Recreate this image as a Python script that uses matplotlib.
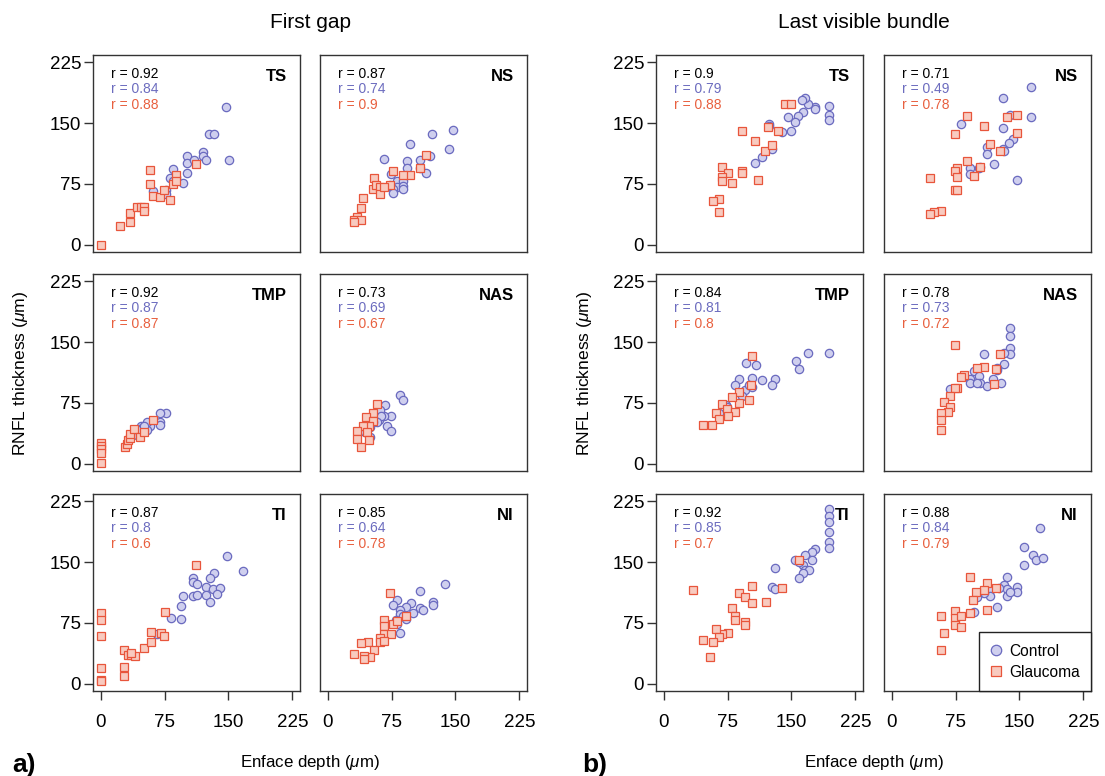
import matplotlib
matplotlib.use("Agg")
import matplotlib.pyplot as plt
from matplotlib.lines import Line2D

plt.rcParams["font.family"] = ["Liberation Sans", "DejaVu Sans"]
plt.rcParams["mathtext.fontset"] = "custom"
plt.rcParams["mathtext.rm"] = "Liberation Sans"
plt.rcParams["mathtext.it"] = "Liberation Sans:italic"

regions = ["TS", "NS", "TMP", "NAS", "TI", "NI"]
ticks = [0, 75, 150, 225]

# correlation coefficients per region: overall, control, glaucoma
gap_r = [[0.92, 0.84, 0.88], [0.87, 0.74, 0.9], [0.92, 0.87, 0.87],
         [0.73, 0.69, 0.67], [0.87, 0.8, 0.6], [0.85, 0.64, 0.78]]
last_r = [[0.9, 0.79, 0.88], [0.71, 0.49, 0.78], [0.84, 0.81, 0.8],
          [0.78, 0.73, 0.72], [0.92, 0.85, 0.7], [0.88, 0.84, 0.79]]

# ---- first gap ----
gap_ts_ctl_x = [147, 151, 127, 133, 120, 120, 124, 101, 101, 109, 101, 97, 85, 88, 81, 85, 77, 77, 62]
gap_ts_ctl_y = [170, 104, 137, 137, 114, 110, 105, 110, 101, 104, 89, 76, 93, 84, 82, 78, 68, 63, 66]
gap_ts_gl_x = [0, 23, 35, 35, 43, 47, 51, 51, 58, 58, 62, 70, 74, 81, 85, 89, 89, 112]
gap_ts_gl_y = [0, 23, 28, 39, 47, 47, 46, 42, 92, 75, 60, 59, 67, 55, 75, 86, 78, 100]

gap_ns_ctl_x = [147, 123, 143, 97, 66, 120, 93, 93, 108, 108, 115, 74, 81, 81, 88, 88, 88, 77, 77, 73]
gap_ns_ctl_y = [142, 136, 118, 124, 106, 110, 103, 95, 104, 95, 89, 87, 78, 71, 78, 73, 69, 69, 64, 74]
gap_ns_gl_x = [116, 108, 97, 89, 77, 73, 54, 53, 57, 62, 62, 66, 42, 39, 35, 31, 39, 31]
gap_ns_gl_y = [111, 94, 86, 86, 91, 74, 82, 69, 74, 71, 62, 71, 58, 45, 34, 30, 30, 28]

gap_tmp_ctl_x = [77, 70, 70, 70, 58, 58, 54, 54, 47, 49, 46, 43, 44, 51]
gap_tmp_ctl_y = [62, 62, 52, 48, 50, 46, 52, 42, 47, 44, 39, 36, 42, 47]
gap_tmp_gl_x = [0, 0, 0, 0, 0, 28, 31, 32, 34, 35, 39, 46, 51, 62]
gap_tmp_gl_y = [26, 22, 18, 13, 1, 21, 24, 29, 32, 37, 43, 33, 39, 54]

gap_nas_ctl_x = [85, 89, 67, 74, 66, 62, 70, 74, 60, 63, 58, 53, 50, 44, 50]
gap_nas_ctl_y = [85, 79, 72, 59, 59, 66, 47, 40, 54, 59, 51, 51, 45, 39, 33]
gap_nas_gl_x = [58, 53, 45, 53, 49, 41, 35, 34, 39, 46, 49]
gap_nas_gl_y = [74, 62, 58, 53, 47, 47, 40, 31, 20, 39, 29]

gap_ti_ctl_x = [148, 167, 133, 128, 108, 108, 113, 124, 132, 140, 124, 136, 108, 113, 128, 97, 94, 82, 94, 66]
gap_ti_ctl_y = [157, 139, 136, 130, 130, 126, 123, 119, 117, 118, 110, 111, 108, 109, 101, 108, 96, 81, 80, 61]
gap_ti_gl_x = [112, 0, 0, 0, 0, 0, 0, 27, 27, 27, 32, 36, 40, 36, 51, 59, 59, 71, 74, 75]
gap_ti_gl_y = [146, 87, 78, 59, 19, 5, 3, 42, 21, 10, 36, 36, 34, 38, 44, 64, 51, 62, 59, 89]

gap_ni_ctl_x = [138, 108, 124, 124, 98, 81, 77, 92, 108, 112, 100, 85, 85, 92, 89, 80, 81, 85]
gap_ni_ctl_y = [123, 114, 101, 97, 99, 103, 97, 95, 93, 91, 87, 91, 86, 80, 84, 78, 74, 63]
gap_ni_gl_x = [73, 92, 77, 81, 66, 66, 66, 74, 62, 62, 66, 47, 39, 54, 50, 43, 43, 31]
gap_ni_gl_y = [112, 83, 74, 77, 79, 71, 61, 61, 56, 52, 53, 51, 50, 42, 33, 34, 30, 37]

# ---- last visible bundle ----
last_ts_ctl_x = [194, 194, 194, 178, 178, 170, 166, 162, 163, 158, 154, 146, 150, 139, 124, 124, 127, 116, 107]
last_ts_ctl_y = [171, 160, 154, 170, 167, 174, 181, 179, 164, 159, 151, 157, 140, 139, 149, 146, 118, 108, 101]
last_ts_gl_x = [143, 150, 92, 123, 134, 107, 119, 127, 69, 76, 69, 69, 92, 92, 80, 111, 65, 58, 65]
last_ts_gl_y = [174, 174, 140, 145, 140, 128, 116, 123, 96, 88, 83, 79, 91, 88, 76, 80, 56, 54, 40]

last_ns_ctl_x = [163, 131, 163, 139, 81, 131, 143, 138, 131, 132, 112, 112, 120, 104, 102, 92, 92, 147]
last_ns_ctl_y = [194, 181, 158, 160, 149, 144, 130, 126, 118, 116, 121, 112, 99, 96, 95, 94, 87, 80]
last_ns_gl_x = [89, 147, 135, 108, 74, 147, 116, 127, 88, 77, 74, 77, 104, 97, 45, 74, 77, 58, 50, 45]
last_ns_gl_y = [159, 160, 158, 146, 137, 138, 124, 116, 103, 95, 91, 83, 96, 85, 82, 68, 68, 41, 40, 38]

last_tmp_ctl_x = [194, 170, 155, 159, 131, 127, 116, 97, 108, 88, 104, 84, 96, 100, 104, 92, 73, 74, 65]
last_tmp_ctl_y = [136, 136, 127, 117, 104, 97, 103, 124, 122, 104, 106, 97, 91, 97, 95, 83, 72, 70, 62]
last_tmp_gl_x = [104, 103, 88, 88, 80, 100, 69, 74, 84, 62, 65, 76, 46, 57]
last_tmp_gl_y = [133, 97, 88, 75, 82, 79, 74, 67, 64, 63, 55, 59, 48, 48]

last_nas_ctl_x = [139, 139, 139, 139, 132, 132, 124, 124, 108, 97, 103, 104, 92, 92, 100, 119, 112, 128, 69]
last_nas_ctl_y = [167, 158, 143, 135, 136, 123, 118, 115, 135, 114, 108, 99, 104, 99, 100, 104, 96, 99, 92]
last_nas_gl_x = [74, 127, 123, 108, 100, 85, 81, 77, 74, 69, 61, 69, 66, 58, 58, 58, 120]
last_nas_gl_y = [146, 135, 117, 119, 118, 109, 107, 93, 93, 84, 76, 70, 64, 62, 54, 41, 98]

last_ti_ctl_x = [194, 194, 194, 194, 194, 194, 178, 174, 174, 166, 154, 163, 166, 171, 159, 163, 159, 131, 127, 131]
last_ti_ctl_y = [215, 207, 200, 187, 175, 168, 166, 162, 153, 159, 152, 147, 140, 140, 150, 137, 131, 143, 119, 117]
last_ti_gl_x = [35, 104, 88, 96, 104, 80, 120, 139, 84, 84, 96, 96, 76, 69, 62, 65, 46, 58, 54, 159]
last_ti_gl_y = [115, 121, 112, 107, 100, 93, 101, 118, 84, 78, 76, 73, 62, 61, 67, 58, 54, 51, 33, 153]

last_ni_ctl_x = [174, 155, 166, 170, 178, 155, 135, 132, 135, 147, 147, 135, 139, 126, 116, 116, 108, 100, 100, 124, 97]
last_ni_ctl_y = [192, 169, 159, 153, 155, 147, 132, 122, 117, 119, 113, 108, 113, 118, 116, 108, 112, 109, 107, 95, 88]
last_ni_gl_x = [92, 112, 108, 99, 123, 96, 112, 92, 74, 74, 74, 81, 81, 58, 62, 58]
last_ni_gl_y = [132, 124, 116, 113, 118, 103, 91, 87, 90, 81, 73, 84, 70, 83, 62, 41]

gap_data = [
    (gap_ts_ctl_x, gap_ts_ctl_y, gap_ts_gl_x, gap_ts_gl_y),
    (gap_ns_ctl_x, gap_ns_ctl_y, gap_ns_gl_x, gap_ns_gl_y),
    (gap_tmp_ctl_x, gap_tmp_ctl_y, gap_tmp_gl_x, gap_tmp_gl_y),
    (gap_nas_ctl_x, gap_nas_ctl_y, gap_nas_gl_x, gap_nas_gl_y),
    (gap_ti_ctl_x, gap_ti_ctl_y, gap_ti_gl_x, gap_ti_gl_y),
    (gap_ni_ctl_x, gap_ni_ctl_y, gap_ni_gl_x, gap_ni_gl_y),
]
last_data = [
    (last_ts_ctl_x, last_ts_ctl_y, last_ts_gl_x, last_ts_gl_y),
    (last_ns_ctl_x, last_ns_ctl_y, last_ns_gl_x, last_ns_gl_y),
    (last_tmp_ctl_x, last_tmp_ctl_y, last_tmp_gl_x, last_tmp_gl_y),
    (last_nas_ctl_x, last_nas_ctl_y, last_nas_gl_x, last_nas_gl_y),
    (last_ti_ctl_x, last_ti_ctl_y, last_ti_gl_x, last_ti_gl_y),
    (last_ni_ctl_x, last_ni_ctl_y, last_ni_gl_x, last_ni_gl_y),
]

ctl_edge, ctl_fill = "#6a6abf", "#cfcfee"
gl_edge, gl_fill = "#e8553b", "#f8cabf"
ctl_text, gl_text = "#6c6cbf", "#e8603f"

W, H = 1105, 776
fig = plt.figure(figsize=(W / 100, H / 100), dpi=100)

col_left = [[93, 320], [656, 884]]
row_top = [55, 274, 494]
box_w, box_h = 207, 197


def draw_panel(ax, d, r, name, first_col, last_row):
    cx, cy, gx, gy = d
    ax.plot(cx, cy, "o", ms=6, mfc=ctl_fill, mec=ctl_edge, mew=0.9, ls="none")
    ax.plot(gx, gy, "s", ms=5.8, mfc=gl_fill, mec=gl_edge, mew=0.9, ls="none")
    ax.set_xlim(-9, 234)
    ax.set_ylim(-9, 234)
    for s in ax.spines.values():
        s.set_color("#333333")
        s.set_linewidth(1.0)
    ax.set_xticks(ticks)
    ax.set_yticks(ticks)
    ax.tick_params(direction="out", length=6.5, width=1.0, color="#333333", labelsize=13.5)
    ax.tick_params(axis="x", pad=10, bottom=last_row, labelbottom=last_row)
    ax.tick_params(axis="y", pad=2, left=first_col, labelleft=first_col)
    cols = ["black", ctl_text, gl_text]
    for i, (v, c) in enumerate(zip(r, cols)):
        ax.text(0.087, 0.885 - i * 0.08, f"r = {v:g}", color=c, fontsize=10,
                transform=ax.transAxes, ha="left", va="baseline")
    ax.text(0.937, 0.87, name, fontsize=12, fontweight="bold",
            transform=ax.transAxes, ha="right", va="baseline")


for g, (data, rvals) in enumerate([(gap_data, gap_r), (last_data, last_r)]):
    for k in range(6):
        row, col = divmod(k, 2)
        x0 = col_left[g][col]
        y0 = row_top[row]
        ax = fig.add_axes([x0 / W, 1 - (y0 + box_h) / H, box_w / W, box_h / H])
        draw_panel(ax, data[k], rvals[k], regions[k], col == 0, row == 2)
        if g == 1 and k == 5:
            handles = [
                Line2D([], [], marker="o", ls="none", ms=7.5, mfc=ctl_fill, mec=ctl_edge, mew=0.9),
                Line2D([], [], marker="s", ls="none", ms=7.5, mfc=gl_fill, mec=gl_edge, mew=0.9),
            ]
            leg = ax.legend(handles, ["Control", "Glaucoma"], loc="lower right",
                            borderaxespad=0, fancybox=False, framealpha=1,
                            edgecolor="#222222", fontsize=11.2, handletextpad=0.5,
                            handlelength=0.7, borderpad=0.72, labelspacing=0.4)
            leg.get_frame().set_linewidth(1.0)

# group headings and shared axis labels
title_x = [310, 864]
for g, title in enumerate(["First gap", "Last visible bundle"]):
    cx = (col_left[g][0] + col_left[g][1] + box_w) / 2
    fig.text(title_x[g] / W, 1 - 22 / H, title, fontsize=15, ha="center", va="center")
    fig.text(cx / W, 1 - 763 / H, "Enface depth ($\\mu$m)", fontsize=12.2, ha="center", va="center")
    ylx = 21 if g == 0 else 585
    fig.text(ylx / W, 1 - 373 / H, "RNFL thickness ($\\mu$m)", fontsize=12.6,
             rotation=90, ha="center", va="center")

fig.text(24 / W, 1 - 765 / H, "a)", fontsize=19, fontweight="bold", ha="center", va="center")
fig.text(595 / W, 1 - 765 / H, "b)", fontsize=19, fontweight="bold", ha="center", va="center")

fig.savefig("out.png", dpi=100)
